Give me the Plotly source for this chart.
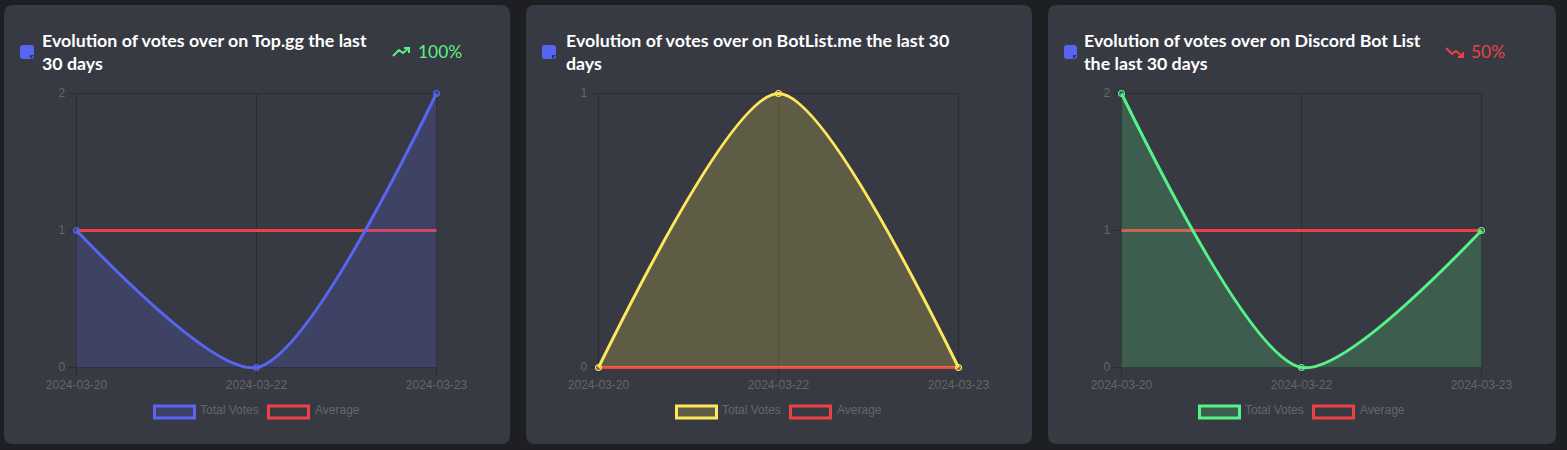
import plotly.graph_objects as go

W, H = 1567, 450
dates = ["2024-03-20", "2024-03-22", "2024-03-23"]
topgg_votes = [1, 0, 2]
topgg_avg = [1, 1, 1]
botlist_votes = [0, 1, 0]
botlist_avg = [0, 0, 0]
dbl_votes = [2, 0, 1]
dbl_avg = [1, 1, 1]
titles = [
    ["Evolution of votes over on Top.gg the last", "30 days"],
    ["Evolution of votes over on BotList.me the last 30", "days"],
    ["Evolution of votes over on Discord Bot List", "the last 30 days"],
]
changes = ["100%", None, "50%"]
y_ticks = [[0, 1, 2], [0, 1], [0, 1, 2]]
y_max = [2, 1, 2]
series_names = ["Total Votes", "Average"]
votes = [topgg_votes, botlist_votes, dbl_votes]
avgs = [topgg_avg, botlist_avg, dbl_avg]

BLUE = "#5865f2"; YEL = "#fee75c"; GRN = "#57f287"; RED = "#ed4245"
PAGE = "#1e1f22"; PANEL = "#373a42"; GRID = "#2a2c31"; TXT = "#666666"
line_cols = [BLUE, YEL, GRN]
fill_cols = ["rgba(88,101,242,0.2)", "rgba(254,231,92,0.2)", "rgba(87,242,135,0.2)"]

panels = [(4, 510), (526, 1032), (1048, 1556)]
plot_x = [(76.5, 436.5), (598.5, 958.5), (1121.5, 1481.5)]
PT, PB = 93.5, 367.5
PAD = 5
icon_x = [(20, 34), (542, 556), (1064, 1077)]
title_x = [40, 564, 1082]


def fx(x):
    return x / W


def fy(y):
    return 1 - y / H


def path(cmds):
    out = []
    for c in cmds:
        if isinstance(c, str):
            out.append(c)
        else:
            out.append(f"{fx(c[0]):.6f},{fy(c[1]):.6f}")
    return " ".join(out)


def rounded(x0, y0, x1, y1, r):
    return path(["M", (x0 + r, y0), "L", (x1 - r, y0), "Q", (x1, y0), (x1, y0 + r),
                 "L", (x1, y1 - r), "Q", (x1, y1), (x1 - r, y1), "L", (x0 + r, y1),
                 "Q", (x0, y1), (x0, y1 - r), "L", (x0, y0 + r), "Q", (x0, y0), (x0 + r, y0), "Z"])


fig = go.Figure()
shapes, annotations = [], []

for i in range(3):
    sfx = "" if i == 0 else str(i + 1)
    xa, ya = "x" + sfx, "y" + sfx
    L, R = plot_x[i]
    C = (L + R) / 2
    shapes.append(dict(type="path", xref="paper", yref="paper", layer="below", path=rounded(panels[i][0], 5, panels[i][1], 444, 9),
                       fillcolor=PANEL, line_width=0))
    for cat in dates:
        shapes.append(dict(type="line", layer="below", xref=xa, x0=cat, x1=cat, yref="paper", y0=fy(PT), y1=fy(PB + 8),
                           line=dict(color=GRID, width=1)))
    for v in y_ticks[i]:
        shapes.append(dict(type="line", layer="below", yref=ya, y0=v, y1=v, xref="paper", x0=fx(L - 8), x1=fx(R),
                           line=dict(color=GRID, width=1)))
    ix0, ix1 = icon_x[i]
    shapes.append(dict(type="path", xref="paper", yref="paper", path=rounded(ix0, 45, ix1, 59, 3), fillcolor=BLUE, line_width=0))
    shapes.append(dict(type="path", xref="paper", yref="paper",
                       path=path(["M", (ix1 - 4, 59), "L", (ix1 - 4, 55), "L", (ix1, 55), "Z"]),
                       fillcolor="#2f3159", line_width=0))
    for j, t in enumerate(titles[i]):
        annotations.append(dict(text=t, x=fx(title_x[i]), y=fy(40.5 + 23 * j), xref="paper", yref="paper", xanchor="left", yanchor="middle",
                                showarrow=False, font=dict(family="Lato", size=17.8, color="#ffffff", weight=700)))
    for k, (sw0, txt_x, col, fc, name) in enumerate([
        (C - 103, C - 59, line_cols[i], fill_cols[i], series_names[0]),
        (C + 11, C + 56, RED, "rgba(0,0,0,0)", series_names[1]),
    ]):
        shapes.append(dict(type="rect", xref="paper", yref="paper", x0=fx(sw0 + 1), x1=fx(sw0 + 41), y0=fy(406), y1=fy(418),
                           line=dict(color=col, width=3), fillcolor=fc))
        annotations.append(dict(text=name, x=fx(txt_x), y=fy(410), xref="paper", yref="paper", xanchor="left", yanchor="middle",
                                showarrow=False, font=dict(family="Liberation Sans", size=12, color=TXT)))

    fig.add_trace(go.Scatter(x=dates, y=avgs[i], name=series_names[1], mode="lines", xaxis=xa, yaxis=ya,
                             line=dict(color=RED, width=3), showlegend=False))
    fig.add_trace(go.Scatter(x=dates, y=votes[i], name=series_names[0], mode="lines+markers", xaxis=xa, yaxis=ya,
                             line=dict(color=line_cols[i], width=3, shape="spline", smoothing=0.75),
                             marker=dict(size=6, color=fill_cols[i], line=dict(color=line_cols[i], width=1.2)),
                             fill="tozeroy", fillcolor=fill_cols[i], showlegend=False))

    axis_common = dict(showline=False, showgrid=False, zeroline=False, automargin=False,
                       ticks="outside", tickwidth=1, tickcolor="rgba(0,0,0,0)",
                       tickfont=dict(family="Liberation Sans", size=12, color=TXT))
    xpad = PAD * 2 / (R - L)
    ypad = PAD * y_max[i] / (PB - PT)
    fig.update_layout({
        "xaxis" + sfx: dict(domain=[fx(L - PAD), fx(R + PAD)], type="category", categoryorder="array", categoryarray=dates,
                            range=[-xpad, 2 + xpad], anchor=ya, tickangle=0, ticklen=1, **axis_common),
        "yaxis" + sfx: dict(domain=[fy(PB + PAD), fy(PT - PAD)], range=[-ypad, y_max[i] + ypad], tickvals=y_ticks[i],
                            ticktext=[str(v) for v in y_ticks[i]], anchor=xa, ticklen=8 - PAD, ticklabelshift=-1, **axis_common),
    })

annotations.append(dict(text=changes[0], x=fx(416), y=fy(52), xref="paper", yref="paper", xanchor="left", yanchor="middle", showarrow=False,
                        font=dict(family="Lato", size=17.4, color=GRN)))
annotations.append(dict(text=changes[2], x=fx(1469), y=fy(52), xref="paper", yref="paper", xanchor="left", yanchor="middle", showarrow=False,
                        font=dict(family="Lato", size=17.4, color=RED)))
shapes.append(dict(type="path", xref="paper", yref="paper", line=dict(color=GRN, width=2),
                   path=path(["M", (393, 56), "L", (399, 50), "L", (403, 53), "L", (409, 48), "M", (404, 48), "L", (409, 48), "L", (409, 53)])))
shapes.append(dict(type="path", xref="paper", yref="paper", line=dict(color=RED, width=2),
                   path=path(["M", (1446, 48), "L", (1452, 54), "L", (1456, 51), "L", (1463, 57), "M", (1458, 57), "L", (1463, 57), "L", (1463, 52)])))

fig.update_layout(width=W, height=H, margin=dict(l=0, r=0, t=0, b=0, autoexpand=False), paper_bgcolor=PAGE, plot_bgcolor="rgba(0,0,0,0)",
                  shapes=shapes, annotations=annotations, showlegend=False)
fig.write_html("out.html", post_script="document.body.style.margin='0';document.body.style.background='%s';" % PAGE,
               config=dict(displayModeBar=False))
